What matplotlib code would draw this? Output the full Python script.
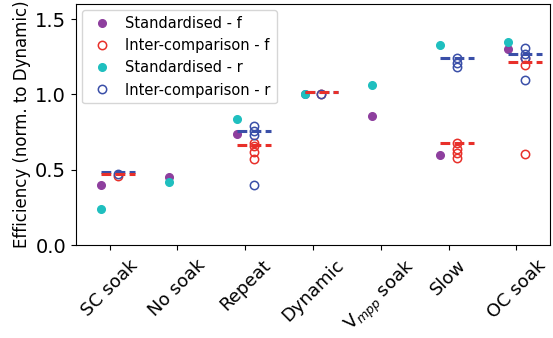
import matplotlib
matplotlib.use("Agg")
import matplotlib.pyplot as plt

categories = ["SC soak", "No soak", "Repeat", "Dynamic", "V$_{mpp}$ soak", "Slow", "OC soak"]

# standardised results, one value per category
std_f = [0.40, 0.45, 0.74, 1.00, 0.86, 0.60, 1.30]
std_r = [0.24, 0.42, 0.84, 1.00, 1.06, 1.33, 1.345]

# inter-comparison results, several devices per category
inter_f = [[0.46], [], [0.68, 0.66, 0.62, 0.57], [1.00], [], [0.68, 0.64, 0.61, 0.58],
           [1.245, 1.195, 0.605]]
inter_r = [[0.47], [], [0.79, 0.76, 0.73, 0.40], [1.00], [], [1.24, 1.21, 1.18],
           [1.305, 1.27, 1.24, 1.095]]

# median of the inter-comparison devices (None = no data)
med_f = [0.475, None, 0.665, 1.015, None, 0.678, 1.213]
med_r = [0.487, None, 0.76, 1.015, None, 1.24, 1.267]

c_f = "#8e3f9e"
c_r = "#1fbfbf"
c_if = "#e8302a"
c_ir = "#3a4fa8"

fig, ax = plt.subplots(figsize=(5.53, 3.38), dpi=100)
fig.subplots_adjust(left=0.137, right=0.995, top=0.988, bottom=0.275)

off = 0.125

xs = [i - off for i in range(len(categories))]
ax.plot(xs, std_f, "o", color=c_f, ms=5.5, ls="none", label="Standardised - f", zorder=3)
xf, yf = [], []
for i, vals in enumerate(inter_f):
    xf += [i + off] * len(vals)
    yf += vals
ax.plot(xf, yf, "o", mfc="none", mec=c_if, mew=1.1, ms=6, ls="none",
        label="Inter-comparison - f", zorder=3)
ax.plot(xs, std_r, "o", color=c_r, ms=5.5, ls="none", label="Standardised - r", zorder=3)
xr, yr = [], []
for i, vals in enumerate(inter_r):
    xr += [i + off] * len(vals)
    yr += vals
ax.plot(xr, yr, "o", mfc="none", mec=c_ir, mew=1.1, ms=6, ls="none",
        label="Inter-comparison - r", zorder=3)

# medians as short dashed bars on top of the points
for i in range(len(categories)):
    if med_r[i] is not None:
        ax.plot([i + off - 0.25, i + off + 0.25], [med_r[i]] * 2, color=c_ir, lw=2.2,
                ls=(0, (3.2, 1.4)), zorder=4)
    if med_f[i] is not None:
        ax.plot([i + off - 0.25, i + off + 0.25], [med_f[i]] * 2, color=c_if, lw=2.2,
                ls=(0, (3.2, 1.4)), zorder=4)

ax.set_xlim(-0.5, 6.5)
ax.set_ylim(0, 1.6)
ax.set_yticks([0, 0.5, 1.0, 1.5])
ax.set_xticks(range(len(categories)))
ax.set_xticklabels(categories, rotation=45, fontsize=13)
ax.tick_params(axis="x", pad=4.5)
ax.tick_params(axis="y", labelsize=14)
ax.set_ylabel("Efficiency (norm. to Dynamic)", fontsize=12, labelpad=3)
ax.legend(loc="upper left", fontsize=10.5, handletextpad=0.6, borderaxespad=0.4)

fig.savefig("out.png", dpi=100)
